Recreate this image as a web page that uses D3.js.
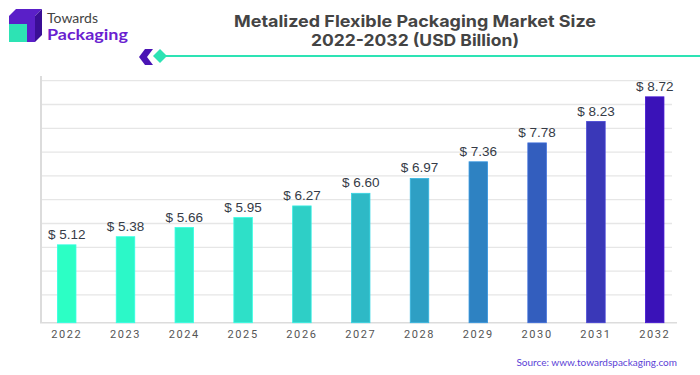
<!DOCTYPE html>
<html>
<head>
<meta charset="utf-8">
<script src="https://cdn.jsdelivr.net/npm/d3@7/dist/d3.min.js"></script>
<style>
  html, body { margin: 0; padding: 0; background: #fff; }
  svg { display: block; }
</style>
</head>
<body>
<svg id="chart" width="700" height="375"></svg>
<script>
const years = ["2022","2023","2024","2025","2026","2027","2028","2029","2030","2031","2032"];
const values = [5.12, 5.38, 5.66, 5.95, 6.27, 6.60, 6.97, 7.36, 7.78, 8.23, 8.72];
const barColors = ["#2cffc5","#2cf8c8","#2ef0c8","#2ee0c8","#2ecfc6","#2eb9c6","#2e9fc4","#2e82c2","#335ebe","#3a38b8","#3a12b8"];
const titleLines = ["Metalized Flexible Packaging Market Size", "2022-2032 (USD Billion)"];
const titleWidths = [362, 208];
const sourceText = "Source: www.towardspackaging.com";

const svg = d3.select("#chart");

// Layout
const plot = { left: 41, right: 677, top: 76, bottom: 322.7 };

const x = d3.scaleBand().domain(years).range([37.3, 684.1]).paddingInner(0.685).paddingOuter(0.3425);
const y = d3.scalePow().exponent(2).domain([0, 9]).range([plot.bottom, 82.1]);
const grid = d3.scaleLinear().domain([0, 10]).range([80.7, 318.7]);

// Gridlines
svg.append("g").selectAll("line").data(d3.range(10)).join("line")
  .attr("x1", plot.left).attr("x2", 672)
  .attr("y1", d => grid(d)).attr("y2", d => grid(d))
  .attr("stroke", "#e6e6e6").attr("stroke-width", 1.3);

// Axes lines
svg.append("line").attr("x1", plot.left).attr("x2", plot.left)
  .attr("y1", plot.top).attr("y2", plot.bottom)
  .attr("stroke", "#dcdcdc").attr("stroke-width", 2);
svg.append("line").attr("x1", plot.left - 1).attr("x2", plot.right)
  .attr("y1", plot.bottom).attr("y2", plot.bottom)
  .attr("stroke", "#dcdcdc").attr("stroke-width", 1.5);

// Bars
svg.append("g").selectAll("rect").data(values).join("rect")
  .attr("x", (d, i) => x(years[i]))
  .attr("width", x.bandwidth())
  .attr("y", d => y(d))
  .attr("height", d => plot.bottom - y(d))
  .attr("fill", (d, i) => barColors[i])
  .attr("stroke", (d, i) => d3.color(barColors[i]).brighter(0.4))
  .attr("stroke-width", 0.8);

// Value labels
svg.append("g").selectAll("text").data(values).join("text")
  .attr("x", (d, i) => x(years[i]) + x.bandwidth() / 2)
  .attr("y", d => y(d) - 6)
  .attr("text-anchor", "middle")
  .attr("font-family", "'Liberation Sans', Arial, sans-serif")
  .attr("font-size", 13.5)
  .attr("fill", "#353b47")
  .text(d => "$ " + d.toFixed(2));

// X axis labels
const xAxis = d3.axisBottom(x).tickSize(0).tickPadding(8);
const gx = svg.append("g").attr("transform", `translate(0,${plot.bottom})`).call(xAxis);
gx.select(".domain").remove();
gx.selectAll("text")
  .attr("font-family", "Roboto, 'Liberation Sans', sans-serif")
  .attr("font-size", 11)
  .attr("letter-spacing", "1.6px")
  .attr("fill", "#555");

// Title
svg.append("g").selectAll("text").data(titleLines).join("text")
  .attr("x", 415)
  .attr("y", (d, i) => 26.5 + i * 19.5)
  .attr("text-anchor", "middle")
  .attr("font-family", "Inter, 'Liberation Sans', Arial, sans-serif")
  .attr("font-weight", "bold")
  .attr("font-size", 16.5)
  .attr("textLength", (d, i) => titleWidths[i])
  .attr("lengthAdjust", "spacingAndGlyphs")
  .attr("fill", "#444")
  .text(d => d);

// Decorative teal line with diamond and chevron
svg.append("line").attr("x1", 160).attr("x2", 700).attr("y1", 56).attr("y2", 56)
  .attr("stroke", "#2de3b4").attr("stroke-width", 2);
svg.append("path").attr("d", "M153,49 L147,57 L153,65 L145,65 L139,57 L145,49 Z").attr("fill", "#4a14b4");
svg.append("path").attr("d", "M160,49 L167,56 L160,63 L153,56 Z").attr("fill", "#2de3b4");

// Logo
const logo = svg.append("g");
logo.append("path").attr("d", "M9,16 L16,9 L42,9 L35,16 Z").attr("fill", "#5a1fc8");
logo.append("path").attr("d", "M35,16 L42,9 L42,35 L35,42 Z").attr("fill", "#3a0e96");
logo.append("rect").attr("x", 9).attr("y", 16).attr("width", 26).attr("height", 26).attr("fill", "#5a1fc8");
logo.append("rect").attr("x", 9).attr("y", 24).attr("width", 18).attr("height", 18).attr("fill", "#2de3b4");
logo.append("text").attr("x", 47).attr("y", 23)
  .attr("font-family", "Lato, 'Open Sans', sans-serif")
  .attr("font-size", 12.5).attr("textLength", 51).attr("lengthAdjust", "spacingAndGlyphs")
  .attr("fill", "#444").text("Towards");
logo.append("text").attr("x", 47).attr("y", 40)
  .attr("font-family", "Lato, 'Open Sans', sans-serif").attr("font-weight", "bold")
  .attr("font-size", 14.5).attr("textLength", 81).attr("lengthAdjust", "spacingAndGlyphs")
  .attr("fill", "#6a1fd0").text("Packaging");

// Source
svg.append("text").attr("x", 677).attr("y", 366)
  .attr("text-anchor", "end")
  .attr("font-family", "Lato, 'Open Sans', sans-serif")
  .attr("font-size", 10).attr("fill", "#5b3fd6")
  .text(sourceText);
</script>
</body>
</html>
